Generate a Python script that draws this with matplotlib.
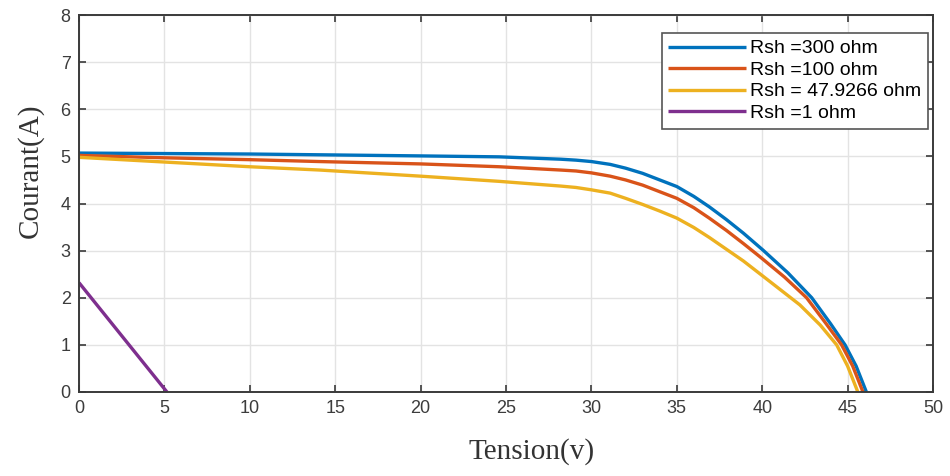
import matplotlib
matplotlib.use("Agg")
import matplotlib.pyplot as plt

# ---- data ----
v_300 = [0, 5, 10, 15, 20, 24.6, 28.2, 29.1, 30, 31.1, 32, 33.0, 34, 35, 36.0, 36.9, 37.9, 38.9, 40.05, 41.5, 42.9, 44.0, 44.85, 45.5, 46.1]
i_300 = [5.07, 5.06, 5.05, 5.03, 5.01, 4.99, 4.94, 4.92, 4.89, 4.83, 4.75, 4.64, 4.50, 4.36, 4.15, 3.93, 3.66, 3.37, 3.01, 2.53, 2.0, 1.45, 1.0, 0.55, 0.0]

v_100 = [0, 5, 10, 14.1, 20, 24.6, 28.2, 29.1, 30, 31.1, 32, 33.0, 34, 35, 36.0, 36.9, 37.9, 38.9, 39.9, 41.3, 42.6, 43.7, 44.65, 45.3, 45.9]
i_100 = [5.02, 4.97, 4.93, 4.89, 4.84, 4.78, 4.71, 4.69, 4.65, 4.58, 4.50, 4.39, 4.25, 4.11, 3.91, 3.69, 3.43, 3.15, 2.86, 2.44, 2.0, 1.47, 1.0, 0.55, 0.0]

v_479 = [0, 5, 10, 14.1, 20, 24.6, 28.2, 29.1, 30, 31.1, 32, 33.0, 34, 35, 36.0, 36.9, 37.9, 38.9, 40.5, 42.2, 43.4, 44.36, 45.0, 45.6]
i_479 = [4.98, 4.88, 4.78, 4.71, 4.58, 4.47, 4.37, 4.34, 4.29, 4.22, 4.11, 3.98, 3.84, 3.69, 3.49, 3.28, 3.03, 2.78, 2.33, 1.85, 1.42, 1.0, 0.55, 0.0]

v_1 = [0, 5.15]
i_1 = [2.32, 0.0]

labels = ["Rsh =300 ohm", "Rsh =100 ohm", "Rsh = 47.9266 ohm", "Rsh =1 ohm"]
colors = ["#0072BD", "#D95319", "#EDB120", "#7E2F8E"]
x_ticks = list(range(0, 51, 5))
y_ticks = list(range(0, 9, 1))

# ---- figure ----
fig = plt.figure(figsize=(9.5, 4.76), dpi=100)
ax = fig.add_axes([79/950, 1-392/476, (933-79)/950, (392-15)/476])

series = [(v_300, i_300), (v_100, i_100), (v_479, i_479), (v_1, i_1)]
for (v, i), lab, c in zip(series, labels, colors):
    ax.plot(v, i, color=c, lw=2.4, label=lab, solid_joinstyle="round", solid_capstyle="butt")

ax.set_xlim(0, 50)
ax.set_ylim(0, 8)
ax.set_xticks(x_ticks)
ax.set_yticks(y_ticks)
ax.grid(True, color="#e3e3e3", lw=1.0)
ax.set_axisbelow(True)
for s in ax.spines.values():
    s.set_color("#3a3a3a")
    s.set_linewidth(1.4)
ax.tick_params(direction="in", top=True, right=True, length=5, width=1.2,
               color="#3a3a3a", labelcolor="#3c3c3c", labelsize=13, pad=6)
for t in ax.get_xticklabels() + ax.get_yticklabels():
    t.set_fontfamily("Liberation Sans")

ax.set_xlabel("Tension(v)", fontfamily="Liberation Serif", fontsize=21, color="#333333")
ax.set_ylabel("Courant(A)", fontfamily="Liberation Serif", fontsize=21, color="#333333")
ax.xaxis.set_label_coords((532-79)/854, (392-438)/377)
ax.yaxis.set_label_coords((44-79)/854, (392-171)/377)

leg = ax.legend(loc="upper right", bbox_to_anchor=(928/950, 1-33/476),
                bbox_transform=fig.transFigure, prop={"family": "Liberation Sans", "size": 14},
                handlelength=4.0, handletextpad=0.2, labelspacing=0.2, borderpad=0.35,
                borderaxespad=0.0, fancybox=False, framealpha=1, edgecolor="#555555")
leg.get_frame().set_linewidth(1.2)

fig.savefig("out.png", dpi=100)
